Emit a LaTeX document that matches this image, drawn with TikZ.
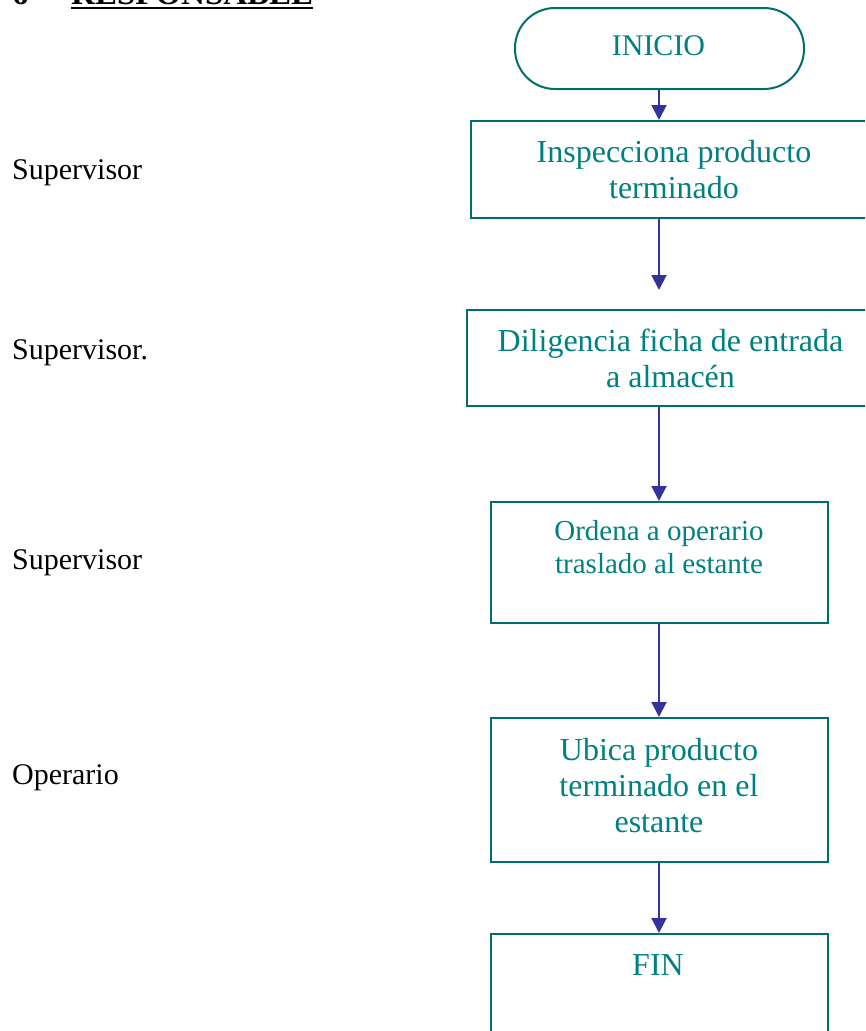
\documentclass[tikz,border=0pt]{standalone}
\usepackage{fontspec}
\setmainfont{Liberation Serif}
\usetikzlibrary{arrows.meta}
\definecolor{boxline}{RGB}{0,110,110}
\definecolor{boxtext}{RGB}{0,128,128}
\definecolor{flow}{RGB}{51,51,153}
\begin{document}
\begin{tikzpicture}[x=1pt,y=-1pt,
  box/.style={draw=boxline, line width=2pt, rectangle, inner sep=0pt},
  term/.style={box, rounded corners=40pt},
  intext/.style={text=boxtext, inner sep=0pt, anchor=base, font=\fontsize{32}{36}\selectfont},
  smalltext/.style={intext, font=\fontsize{29}{33}\selectfont},
  role/.style={inner sep=0pt, anchor=base west, font=\fontsize{30}{34}\selectfont},
  conn/.style={draw=flow, line width=2pt, -{Triangle[width=15pt,length=15pt]}}]
\useasboundingbox (0,0) rectangle (865,1031);
\clip (0,0) rectangle (865,1031);

% heading
\node[inner sep=0pt, anchor=base west, font=\bfseries\fontsize{33}{36}\selectfont] (num) at (12,4) {6};
\node[inner sep=0pt, anchor=base west, font=\bfseries\fontsize{33}{36}\selectfont] (ttl) at (71,4) {RESPONSABLE};
\draw[line width=2pt] ([yshift=-3.5pt]ttl.base west) -- ([yshift=-3.5pt]ttl.base east);

% roles column
\node[role] (r1) at (12,179) {Supervisor};
\node[role] (r2) at (12,359) {Supervisor.};
\node[role] (r3) at (12,569) {Supervisor};
\node[role] (r4) at (12,784) {Operario};

% flow shapes
\node[term, minimum width=289pt, minimum height=81pt] (start) at (659.5,48.5) {};
\node[box, minimum width=406pt, minimum height=97pt] (b1) at (674,169.5) {};
\node[box, minimum width=407pt, minimum height=96pt] (b2) at (670.5,358) {};
\node[box, minimum width=337pt, minimum height=121pt] (b3) at (659.5,562.5) {};
\node[box, minimum width=337pt, minimum height=144pt] (b4) at (659.5,790) {};
\node[box, minimum width=337pt, minimum height=126pt] (b5) at (659.5,997) {};

% texts in the shapes
\node[intext, font=\fontsize{30}{34}\selectfont] (t0) at (658.5,55) {INICIO};
\node[intext] (t1a) at (674,162) {Inspecciona producto};
\node[intext] (t1b) at (674,198) {terminado};
\node[intext] (t2a) at (670.5,351) {Diligencia ficha de entrada};
\node[intext] (t2b) at (670.5,387) {a almacén};
\node[smalltext] (t3a) at (659,540) {Ordena a operario};
\node[smalltext] (t3b) at (659,573) {traslado al estante};
\node[intext] (t4a) at (659,760) {Ubica producto};
\node[intext] (t4b) at (659,796) {terminado en el};
\node[intext] (t4c) at (659,832) {estante};
\node[intext] (t5) at (658,975) {FIN};

% connectors
\coordinate (axis) at (659,0);
\draw[conn] (start.south -| axis) -- (b1.north -| axis);
\draw[conn, shorten >=19pt] (b1.south -| axis) -- (b2.north -| axis);
\draw[conn] (b2.south -| axis) -- (b3.north -| axis);
\draw[conn] (b3.south -| axis) -- (b4.north -| axis);
\draw[conn] (b4.south -| axis) -- (b5.north -| axis);
\end{tikzpicture}
\end{document}
